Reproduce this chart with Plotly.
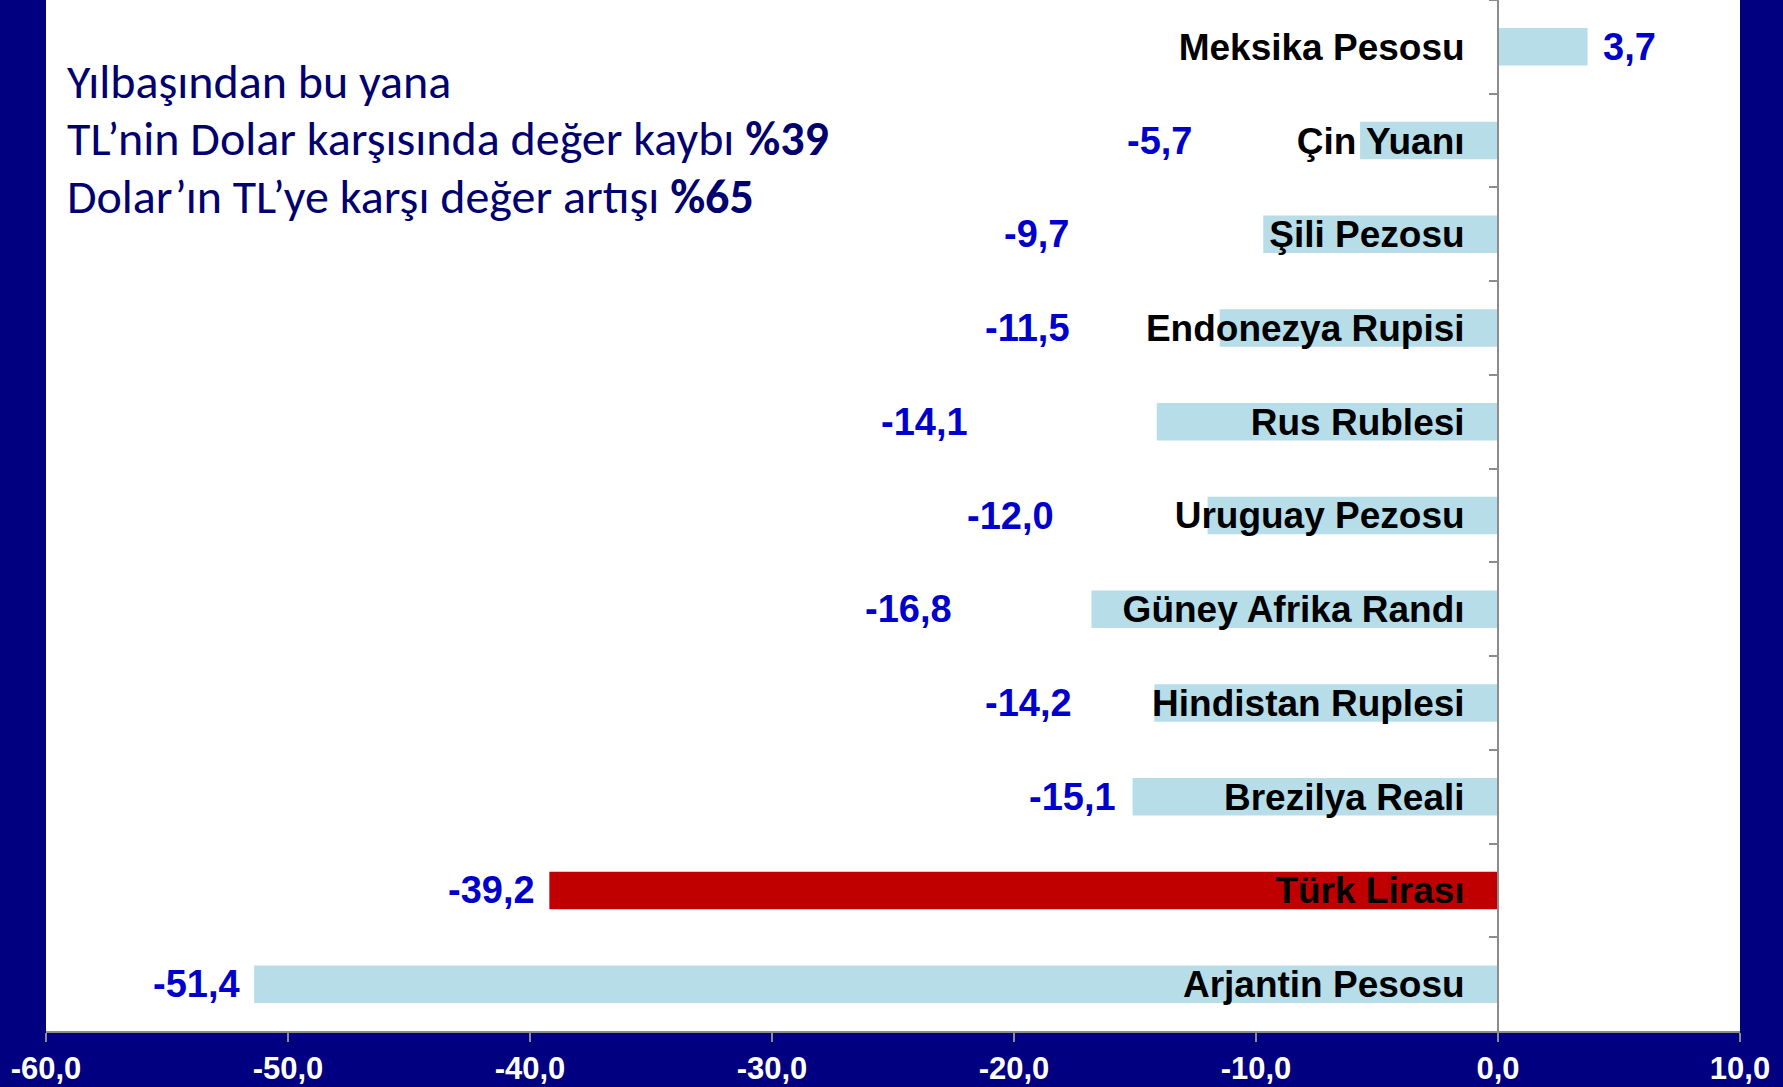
import plotly.graph_objects as go

# ---- data ----
categories = ["Meksika Pesosu", "Çin Yuanı", "Şili Pezosu", "Endonezya Rupisi",
              "Rus Rublesi", "Uruguay Pezosu", "Güney Afrika Randı",
              "Hindistan Ruplesi", "Brezilya Reali", "Türk Lirası", "Arjantin Pesosu"]
values = [3.7, -5.7, -9.7, -11.5, -14.1, -12.0, -16.8, -14.2, -15.1, -39.2, -51.4]
value_labels = ["3,7", "-5,7", "-9,7", "-11,5", "-14,1", "-12,0", "-16,8",
                "-14,2", "-15,1", "-39,2", "-51,4"]
# x positions (axis units) where the value labels were placed in the original
label_x = [5.45, -14.0, -19.07, -19.45, -23.7, -20.15, -24.37, -19.4, -17.6, -41.6, -53.8]
x_tickvals = [-60, -50, -40, -30, -20, -10, 0, 10]
x_ticktext = ["-60,0", "-50,0", "-40,0", "-30,0", "-20,0", "-10,0", "0,0", "10,0"]
highlight = "Türk Lirası"

note_lines = ["Yılbaşından bu yana",
              "TL’nin Dolar karşısında değer kaybı <b>%39</b>",
              "Dolar’ın TL’ye karşı değer artışı <b>%65</b>"]

# ---- styles ----
NAVY = "#000080"
BAR = "#B7DDE8"
RED = "#C00000"
LBL = "#0000CC"
GREY = "#8C8C8C"
FONT = "Arial, Liberation Sans, sans-serif"

W, H = 1783, 1087
ML, MR, MT, MB = 46, 43, 0, 56
plot_h = H - MT - MB

colors = [RED if c == highlight else BAR for c in categories]

fig = go.Figure()
fig.add_trace(go.Bar(
    y=categories, x=values, orientation="h",
    marker=dict(color=colors, line=dict(width=0)),
    width=0.4, hoverinfo="skip", showlegend=False,
))

for c, lx, t in zip(categories, label_x, value_labels):
    fig.add_annotation(x=lx, y=c, xref="x", yref="y", text=t, showarrow=False,
                       xanchor="center", yanchor="middle",
                       font=dict(family=FONT, size=38, color=LBL, weight="bold"))

line_px = [82, 139, 196]
for txt, py in zip(note_lines, line_px):
    fig.add_annotation(x=0, y=1 - py / plot_h, xref="paper", yref="paper",
                       xshift=19, text=txt, showarrow=False,
                       xanchor="left", yanchor="middle", align="left",
                       font=dict(family="Carlito, Calibri, Lato, sans-serif",
                                 size=48, color="#00006E"))

x0 = min(x_tickvals)
x1 = max(x_tickvals)
fig.update_layout(
    width=W, height=H,
    margin=dict(l=ML, r=MR, t=MT, b=MB, pad=0),
    paper_bgcolor=NAVY, plot_bgcolor="white",
    bargap=0.6,
    xaxis=dict(range=[x0, x1], tickvals=x_tickvals, ticktext=x_ticktext,
               showgrid=False, zeroline=False, showline=True, linecolor=GREY,
               linewidth=2, ticks="outside", ticklen=9, tickcolor=GREY, tickwidth=2,
               tickfont=dict(family=FONT, size=31, color="white", weight="bold"),
               fixedrange=True),
    yaxis=dict(categoryorder="array", categoryarray=categories,
               range=[len(categories) - 0.5, -0.5],
               anchor="free", position=(0 - x0) / (x1 - x0),
               showgrid=False, zeroline=False, showline=True, linecolor=GREY,
               linewidth=2, ticks="outside", tickson="boundaries", ticklen=8,
               tickcolor=GREY, tickwidth=2, ticklabelstandoff=25,
               tickfont=dict(family=FONT, size=37, color="black", weight="bold"),
               fixedrange=True),
)

fig.write_html("out.html", config={"displayModeBar": False},
               post_script="document.body.style.margin='0';document.body.style.background='%s';" % NAVY)
